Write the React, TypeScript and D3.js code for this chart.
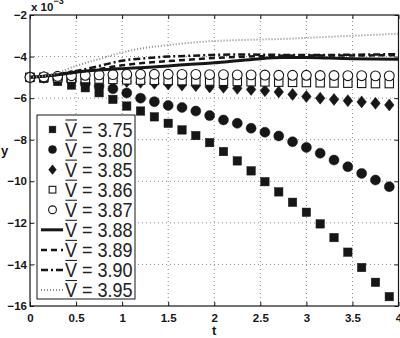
import { useRef, useEffect } from 'react'
import * as d3 from 'd3'

// sample times of the marker series and of the line series
const markerT = [0, 0.15, 0.3, 0.45, 0.6, 0.75, 0.9, 1.05, 1.2, 1.35, 1.5, 1.65, 1.8, 1.95, 2.1, 2.25, 2.4, 2.55, 2.7, 2.85, 3.0, 3.15, 3.3, 3.45, 3.6, 3.75, 3.9]
const lineT = [0, 0.25, 0.5, 0.75, 1, 1.25, 1.5, 1.75, 2, 2.25, 2.5, 2.75, 3, 3.25, 3.5, 3.75, 4]

// y values (x 10^-3)
const v375 = [-5, -5.05, -5.2, -5.37, -5.5, -5.74, -6.06, -6.38, -6.62, -6.9, -7.21, -7.53, -7.8, -8.14, -8.57, -9.02, -9.5, -10.02, -10.51, -11.01, -11.49, -12.05, -12.71, -13.41, -14.15, -14.86, -15.55]
const v380 = [-5, -5.02, -5.08, -5.15, -5.3, -5.42, -5.55, -5.75, -6.0, -6.17, -6.35, -6.45, -6.62, -6.84, -7.05, -7.21, -7.45, -7.64, -7.82, -8.1, -8.37, -8.65, -8.98, -9.3, -9.62, -9.94, -10.26]
const v385 = [-5, -5.0, -5.02, -5.05, -5.1, -5.13, -5.17, -5.2, -5.24, -5.28, -5.32, -5.37, -5.4, -5.46, -5.48, -5.53, -5.58, -5.64, -5.7, -5.82, -5.92, -6.0, -6.06, -6.12, -6.18, -6.25, -6.33]
const v386 = [-5, -5.0, -5.02, -5.04, -5.06, -5.08, -5.1, -5.12, -5.13, -5.14, -5.15, -5.16, -5.17, -5.18, -5.19, -5.2, -5.21, -5.22, -5.23, -5.24, -5.25, -5.26, -5.27, -5.28, -5.29, -5.3, -5.3]
const v387 = [-5, -4.98, -4.95, -4.92, -4.9, -4.88, -4.87, -4.86, -4.85, -4.85, -4.85, -4.86, -4.86, -4.87, -4.87, -4.88, -4.88, -4.89, -4.9, -4.9, -4.9, -4.91, -4.91, -4.92, -4.92, -4.93, -4.93]
const v388 = [-5, -4.9, -4.75, -4.65, -4.58, -4.52, -4.45, -4.37, -4.3, -4.2, -4.1, -4.05, -4.05, -4.07, -4.1, -4.12, -4.13]
const v389 = [-5, -4.9, -4.76, -4.6, -4.42, -4.3, -4.22, -4.14, -4.07, -4.02, -3.98, -3.96, -3.95, -3.95, -3.95, -3.94, -3.93]
const v390 = [-5, -4.88, -4.7, -4.45, -4.2, -4.08, -4.0, -3.96, -3.92, -3.9, -3.91, -3.92, -3.92, -3.92, -3.91, -3.9, -3.88]
const v395 = [-5, -4.85, -4.45, -4.12, -3.8, -3.58, -3.45, -3.33, -3.25, -3.21, -3.18, -3.15, -3.1, -3.05, -3.0, -2.95, -2.9]

const xTicks = [0, 0.5, 1, 1.5, 2, 2.5, 3, 3.5, 4]
const yTicks = [-16, -14, -12, -10, -8, -6, -4, -2]
const legendLabels = ['3.75', '3.80', '3.85', '3.86', '3.87', '3.88', '3.89', '3.90', '3.95']

const ink = '#161616'

type Series = {
	label: string
	values: number[]
	kind: 'square' | 'circle' | 'diamond' | 'osquare' | 'ocircle' | 'line'
	dash?: string
	width?: number
	color?: string
}

const series: Series[] = [
	{ label: legendLabels[0], values: v375, kind: 'square' },
	{ label: legendLabels[1], values: v380, kind: 'circle' },
	{ label: legendLabels[2], values: v385, kind: 'diamond' },
	{ label: legendLabels[3], values: v386, kind: 'osquare' },
	{ label: legendLabels[4], values: v387, kind: 'ocircle' },
	{ label: legendLabels[5], values: v388, kind: 'line', dash: null, width: 3 },
	{ label: legendLabels[6], values: v389, kind: 'line', dash: '6,4', width: 2.5 },
	{ label: legendLabels[7], values: v390, kind: 'line', dash: '7,3,2,3', width: 2.5 },
	{ label: legendLabels[8], values: v395, kind: 'line', dash: '1,2', width: 2, color: '#8c8c8c' },
]

function drawMarker(g, kind, x, y, legend = false) {
	const s = legend ? 0.8 : 1
	if (kind === 'square' || kind === 'osquare') {
		const h = (kind === 'square' ? 4.2 : 4.2) * s
		g.append('rect')
			.attr('x', x - h)
			.attr('y', y - h)
			.attr('width', 2 * h)
			.attr('height', 2 * h)
			.attr('fill', kind === 'square' ? ink : '#fff')
			.attr('stroke', ink)
			.attr('stroke-width', kind === 'square' ? 0.5 : 1.1)
	} else if (kind === 'circle' || kind === 'ocircle') {
		g.append('circle')
			.attr('cx', x)
			.attr('cy', y)
			.attr('r', (kind === 'circle' ? 5 : 4.9) * s)
			.attr('fill', kind === 'circle' ? ink : '#fff')
			.attr('stroke', ink)
			.attr('stroke-width', kind === 'circle' ? 0.5 : 1.1)
	} else if (kind === 'diamond') {
		const w = 4.8 * s
		const h = 6 * s
		g.append('path')
			.attr('d', `M${x},${y - h}L${x + w},${y}L${x},${y + h}L${x - w},${y}Z`)
			.attr('fill', ink)
			.attr('stroke', ink)
			.attr('stroke-width', 0.5)
	}
}

export default function App() {
	const ref = useRef<SVGSVGElement>(null)

	const W = 400
	const H = 338
	const margin = { top: 15, right: 1.5, bottom: 32, left: 30 }

	useEffect(() => {
		const svg = d3.select(ref.current)
		svg.selectAll('*').remove()

		const x = d3.scaleLinear().domain([0, 4]).range([margin.left, W - margin.right])
		const y = d3.scaleLinear().domain([-16, -2]).range([H - margin.bottom, margin.top])
		const [x0, x1] = x.range()
		const [y0, y1] = y.range()

		svg.append('rect').attr('width', W).attr('height', H).attr('fill', '#fff')

		// dotted grid
		const grid = svg.append('g').attr('stroke', '#8a8a8a').attr('stroke-width', 1).attr('stroke-dasharray', '1,3')
		grid.selectAll('.gx')
			.data(xTicks.slice(1, -1))
			.join('line')
			.attr('x1', (d) => x(d))
			.attr('x2', (d) => x(d))
			.attr('y1', y0)
			.attr('y2', y1)
		grid.selectAll('.gy')
			.data(yTicks.slice(1, -1))
			.join('line')
			.attr('y1', (d) => y(d))
			.attr('y2', (d) => y(d))
			.attr('x1', x0)
			.attr('x2', x1)

		const font = 'Liberation Sans, Arial, sans-serif'

		// axes
		svg.append('g')
			.attr('transform', `translate(0,${y0})`)
			.call(d3.axisBottom(x).tickValues(xTicks).tickSize(-4).tickPadding(8).tickFormat(d3.format('')))
			.call((g) => g.select('.domain').remove())
			.call((g) => g.selectAll('.tick line').attr('stroke', ink))
			.call((g) => g.selectAll('.tick text').attr('fill', ink).attr('font-weight', 'bold'))
			.attr('font-size', 11.5)
			.attr('font-family', font)
		svg.append('g')
			.attr('transform', `translate(${x0},0)`)
			.call(d3.axisLeft(y).tickValues(yTicks).tickSize(-4).tickPadding(3).tickFormat((d) => String(d).replace('-', '\u2212')))
			.call((g) => g.select('.domain').remove())
			.call((g) => g.selectAll('.tick line').attr('stroke', ink))
			.call((g) => g.selectAll('.tick text').attr('fill', ink).attr('font-weight', 'bold'))
			.attr('font-size', 11.5)
			.attr('font-family', font)
		// mirrored ticks on top and right
		svg.append('g')
			.attr('transform', `translate(0,${y1})`)
			.call(d3.axisTop(x).tickValues(xTicks).tickSize(-4).tickFormat(() => ''))
			.call((g) => g.select('.domain').remove())
			.call((g) => g.selectAll('.tick line').attr('stroke', ink))
		svg.append('g')
			.attr('transform', `translate(${x1},0)`)
			.call(d3.axisRight(y).tickValues(yTicks).tickSize(-4).tickFormat(() => ''))
			.call((g) => g.select('.domain').remove())
			.call((g) => g.selectAll('.tick line').attr('stroke', ink))

		// data
		const plot = svg.append('g')
		const line = d3
			.line<number>()
			.x((d, i) => x(lineT[i]))
			.y((d) => y(d))
			.curve(d3.curveMonotoneX)
		series.forEach((s) => {
			if (s.kind === 'line') {
				plot.append('path')
					.attr('d', line(s.values))
					.attr('fill', 'none')
					.attr('stroke', s.color || ink)
					.attr('stroke-width', s.width)
					.attr('stroke-dasharray', s.dash)
			} else {
				s.values.forEach((v, i) => drawMarker(plot, s.kind, x(markerT[i]), y(v)))
			}
		})

		// frame
		svg.append('rect')
			.attr('x', x0)
			.attr('y', y1)
			.attr('width', x1 - x0)
			.attr('height', y0 - y1)
			.attr('fill', 'none')
			.attr('stroke', ink)
			.attr('stroke-width', 1.2)

		// axis labels and exponent
		svg.append('text')
			.attr('x', (x0 + x1) / 2)
			.attr('y', 335)
			.attr('text-anchor', 'middle')
			.attr('font-family', font)
			.attr('font-weight', 'bold')
			.attr('font-size', 13)
			.attr('fill', ink)
			.text('t')
		svg.append('text')
			.attr('x', 4.5)
			.attr('y', 155)
			.attr('text-anchor', 'middle')
			.attr('font-family', font)
			.attr('font-weight', 'bold')
			.attr('font-size', 13)
			.attr('fill', ink)
			.text('y')
		const exp = svg.append('text')
			.attr('x', 31)
			.attr('y', 11)
			.attr('font-family', font)
			.attr('font-weight', 'bold')
			.attr('font-size', 11.5)
			.attr('fill', ink)
		exp.append('tspan').text('x 10')
		exp.append('tspan').attr('dy', -7).attr('font-size', 9).text('\u22123')

		// legend
		const lg = svg.append('g')
		const box = { x: 37, y: 115, w: 98, h: 184 }
		lg.append('rect')
			.attr('x', box.x)
			.attr('y', box.y)
			.attr('width', box.w)
			.attr('height', box.h)
			.attr('fill', '#fff')
			.attr('stroke', ink)
			.attr('stroke-width', 1)
		const rowY = d3.scalePoint().domain(legendLabels).range([129.5, 290])
		series.forEach((s) => {
			const cy = rowY(s.label)
			if (s.kind === 'line') {
				lg.append('line')
					.attr('x1', 41)
					.attr('x2', 63)
					.attr('y1', cy)
					.attr('y2', cy)
					.attr('stroke', s.color || ink)
					.attr('stroke-width', s.width)
					.attr('stroke-dasharray', s.dash)
			} else {
				drawMarker(lg, s.kind, 52.5, cy, true)
			}
			lg.append('text')
				.attr('transform', `translate(65,${cy + 7}) scale(1.06,1.15)`)
				.attr('font-family', font)
				.attr('font-size', 17)
				.attr('fill', '#222')
				.text('V = ' + s.label)
			// bar over the V
			lg.append('line')
				.attr('x1', 65.5)
				.attr('x2', 77)
				.attr('y1', cy - 9.5)
				.attr('y2', cy - 9.5)
				.attr('stroke', '#222')
				.attr('stroke-width', 1.1)
		})
	}, [])

	return (
		<div style={{ position: 'fixed', left: 0, top: 0 }}>
			<svg ref={ref} width={W} height={H} style={{ display: 'block' }}></svg>
		</div>
	)
}
